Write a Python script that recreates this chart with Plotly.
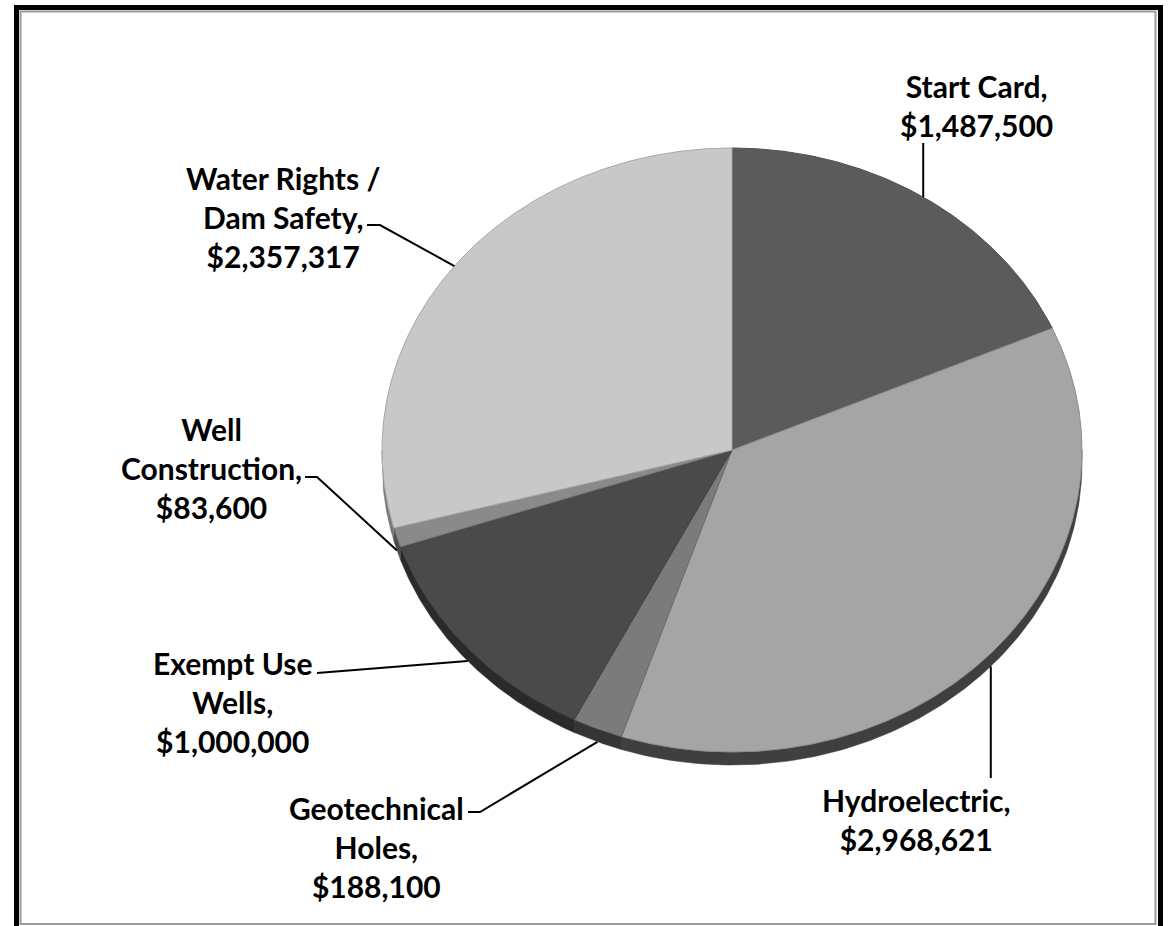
import numpy as np
import plotly.graph_objects as go

# Budget allocation by program
categories = ["Start Card", "Hydroelectric", "Geotechnical<br>Holes",
              "Exempt Use<br>Wells", "Well<br>Construc\u200ction",
              "Water Rights /<br>Dam Safety"]
amounts = [1487500, 2968621, 188100, 1000000, 83600, 2357317]

# Styling: top-face fill, rim (side) fill, outline per slice
top_colors = ["#5b5b5b", "#a5a5a5", "#7b7b7b", "#4a4a4a", "#8a8a8a", "#c8c8c8"]
side_colors = ["#303030", "#3f3f3f", "#353535", "#2a2a2a", "#4a4a4a", "#7a7a7a"]
edge_colors = ["#505050", "#8c8c8c", "#6a6a6a", "#404040", "#777777", "#a8a8a8"]

# Label block centres and leader-line elbows (pixel space)
label_pos = [(976, 105), (916, 819), (376, 847), (232, 702), (211, 468), (283, 217)]
leader_mid = [None, None, (480, 812), (330, 672), (317, 477), (380, 225)]
leader_end = [(None, 143), (None, 778), (468, 812), (317, 673), (305, 477), (367, 225)]

W, H = 1168, 926
CX, CY = 732, 450          # ellipse centre
RX, RY = 350, 302          # ellipse radii
DEPTH = 13                 # rim thickness

vals = np.array(amounts, dtype=float)
frac = vals / vals.sum()
ends = np.cumsum(frac) * 360.0
starts = ends - frac * 360.0


def ell(theta_deg, dy=0.0):
    t = np.radians(theta_deg)
    return CX + RX * np.sin(t), CY - RY * np.cos(t) + dy


fig = go.Figure()

# rim (visible lower half only)
for i in range(len(amounts)):
    lo, hi = max(starts[i], 90.0), min(ends[i], 270.0)
    if hi <= lo:
        continue
    th = np.linspace(lo, hi, 120)
    xt, yt = ell(th)
    xb, yb = ell(th[::-1], DEPTH)
    fig.add_trace(go.Scatter(
        x=np.concatenate([xt, xb, xt[:1]]), y=np.concatenate([yt, yb, yt[:1]]),
        mode="lines", fill="toself", fillcolor=side_colors[i],
        line=dict(color=side_colors[i], width=0.5), hoverinfo="skip", showlegend=False))

# top faces
for i in range(len(amounts)):
    th = np.linspace(starts[i], ends[i], max(8, int((ends[i] - starts[i]) * 3)))
    xa, ya = ell(th)
    fig.add_trace(go.Scatter(
        x=np.concatenate([[CX], xa, [CX]]), y=np.concatenate([[CY], ya, [CY]]),
        mode="lines", fill="toself", fillcolor=top_colors[i],
        line=dict(color=edge_colors[i], width=1), hoverinfo="skip", showlegend=False))

# leader lines and labels
annotations = []
for i in range(len(amounts)):
    mid = (starts[i] + ends[i]) / 2.0
    lower = 90.0 < mid < 270.0
    px, py = ell(mid, DEPTH if lower else 0.0)
    xs, ys = [px], [py]
    if leader_mid[i] is not None:
        xs.append(leader_mid[i][0]); ys.append(leader_mid[i][1])
    ex, ey = leader_end[i]
    xs.append(px if ex is None else ex); ys.append(ey)
    fig.add_trace(go.Scatter(x=xs, y=ys, mode="lines",
                             line=dict(color="#000000", width=2),
                             hoverinfo="skip", showlegend=False))
    annotations.append(dict(
        x=label_pos[i][0], y=label_pos[i][1], xref="x", yref="y",
        text=f"{categories[i]},<br>${amounts[i]:,}", showarrow=False,
        xanchor="center", yanchor="middle", align="center",
        font=dict(family="Lato", size=30, color="#000000", weight="bold")))

shapes = [
    # soft grey inner shadow of the frame
    dict(type="rect", xref="x", yref="y", x0=20.5, y0=11.5, x1=1155.5, y1=924,
         line=dict(color="#9a9a9a", width=2), fillcolor="rgba(0,0,0,0)", layer="below"),
    # black outer frame
    dict(type="rect", xref="x", yref="y", x0=16.5, y0=7.5, x1=1160.5, y1=940,
         line=dict(color="#000000", width=5), fillcolor="rgba(0,0,0,0)", layer="above"),
]

fig.update_layout(
    width=W, height=H, autosize=False,
    margin=dict(l=0, r=0, t=0, b=0),
    paper_bgcolor="#ffffff", plot_bgcolor="#ffffff",
    xaxis=dict(range=[0, W], visible=False, fixedrange=True),
    yaxis=dict(range=[H, 0], visible=False, fixedrange=True),
    annotations=annotations, shapes=shapes, showlegend=False,
)

fig.write_html("out.html")
